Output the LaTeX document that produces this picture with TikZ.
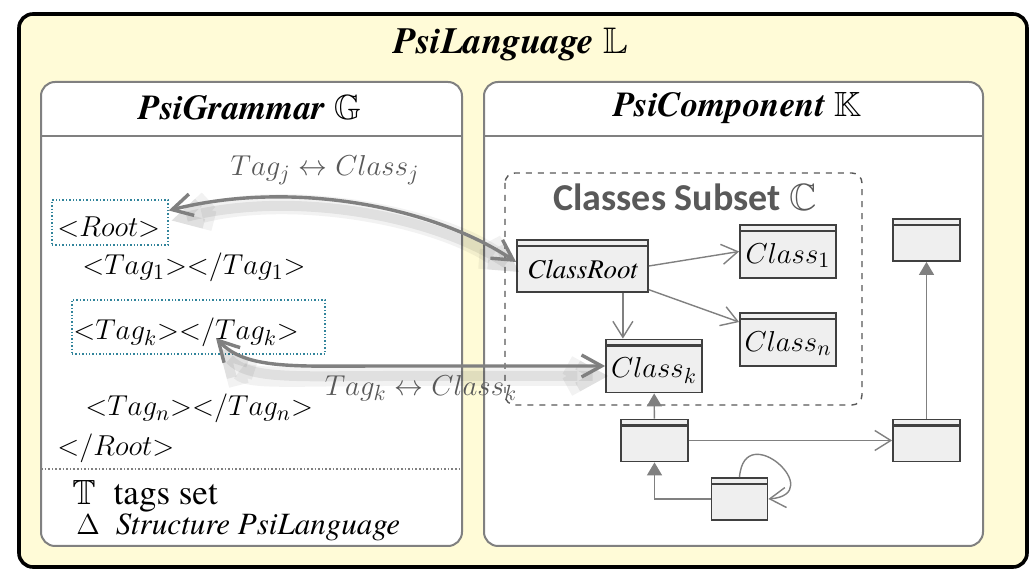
\documentclass[tikz,border=0pt]{standalone}
\usepackage{amsmath}
\usepackage{amssymb}
\usepackage{fontspec}
\IfFontExistsTF{texgyretermes-regular.otf}
  {\setmainfont{texgyretermes}[
     Extension=.otf,
     UprightFont=*-regular,
     BoldFont=*-bold,
     ItalicFont=*-italic,
     BoldItalicFont=*-bolditalic]}
  {\setmainfont{Liberation Serif}}
\setsansfont{Carlito}
\usetikzlibrary{arrows.meta,positioning,calc}

\definecolor{paleyellow}{RGB}{255,251,215}
\definecolor{framegray}{RGB}{128,128,128}
\definecolor{clsfill}{RGB}{239,239,239}
\definecolor{clsline}{RGB}{64,64,64}
\definecolor{tagteal}{RGB}{49,132,155}
\definecolor{lblgray}{RGB}{89,89,89}

\newcommand{\fsz}[1]{\fontsize{#1}{#1}\selectfont}
\newcommand{\xtag}[1]{$\mathord{<}Tag_{#1}\mathord{>}\mathord{<}/Tag_{#1}\mathord{>}$}

\begin{document}
\begin{tikzpicture}[
    x=0.5pt, y=-0.5pt,
    >={Straight Barb[length=8pt,width=10pt]},
    panel/.style   ={draw=framegray, line width=1pt, fill=white, rounded corners=7pt},
    ptitle/.style  ={font=\fsz{17.5}\bfseries\itshape},
    tagbox/.style  ={draw=tagteal, densely dotted, line width=0.7pt, inner sep=0pt},
    tagtxt/.style  ={anchor=base west, inner sep=0pt, font=\fsz{15}},
    cls/.style     ={rectangle, draw=clsline, line width=0.9pt, fill=clsfill,
                     inner sep=1pt, font=\fsz{15}, text height=14.5pt, text depth=2.5pt,
                     path picture={\draw[clsline, line width=1.3pt]
                       ([yshift=-3pt]path picture bounding box.north west) --
                       ([yshift=-3pt]path picture bounding box.north east);}},
    bigcls/.style  ={cls, minimum width=48pt, minimum height=26.5pt},
    tiny/.style    ={cls, minimum width=33.5pt, minimum height=21pt},
    link/.style    ={draw=framegray, line width=0.7pt},
    assoc/.style   ={link, ->},
    inherit/.style ={link, -{Triangle[length=6.5pt,width=7.5pt]}},
    map/.style     ={draw=framegray, line width=1.7pt,
                     {Straight Barb[length=10pt,width=11pt]}-{Straight Barb[length=10pt,width=11pt]},
                     preaction={draw=black, opacity=0.05, line width=10pt,
                       transform canvas={shift={(1.5pt,-5pt)}}},
                     preaction={draw=black, opacity=0.07, line width=5pt,
                       transform canvas={shift={(1.5pt,-5pt)}}}},
    lbl/.style     ={text=lblgray, font=\fsz{15}},
]
\useasboundingbox (0,0) rectangle (1030,582);

% ----------------------------------------------------------------------
%  outer frame : PsiLanguage
% ----------------------------------------------------------------------
\draw[line width=1.8pt, fill=paleyellow, rounded corners=7pt]
      (19,14) rectangle (1027,567);
\node[font=\fsz{18.5}\bfseries\itshape] (langtitle) at (511,45)
      {PsiLanguage $\mathbb{L}$};

% ----------------------------------------------------------------------
%  left panel : PsiGrammar
% ----------------------------------------------------------------------
\draw[panel] (41,82) rectangle (462,546);
\draw[draw=framegray, line width=1pt] (41,136) -- (462,136);
\draw[draw=framegray, densely dotted, line width=0.8pt] (41,469) -- (462,469);
\node[ptitle] (gramtitle) at (250,108) {PsiGrammar $\mathbb{G}$};

\node[tagbox, minimum width=58pt, minimum height=22.5pt] (rootbox) at (110,222.5) {};
\node[tagbox, minimum width=126.5pt, minimum height=27pt] (tagkbox) at (198.5,327) {};

\node[tagtxt] (rootopen)  at (57,237)  {$\mathord{<}Root\mathord{>}$};
\node[tagtxt] (tagone)    at (82,275)  {\xtag{1}};
\node[tagtxt] (tagk)      at (73,340)  {\xtag{k}};
\node[tagtxt] (tagn)      at (85,416)  {\xtag{n}};
\node[tagtxt] (rootclose) at (57,456)  {$\mathord{<}/Root\mathord{>}$};

\node[anchor=base west, inner sep=0pt, font=\fsz{17.5}] (tset) at (72,505)
      {$\mathbb{T}$\hspace{9pt}tags set};
\node[anchor=base west, inner sep=0pt, font=\fsz{15.5}] (struct) at (76,535)
      {$\Delta$\hspace{8pt}\textit{Structure PsiLanguage}};

% ----------------------------------------------------------------------
%  right panel : PsiComponent
% ----------------------------------------------------------------------
\draw[panel] (484,82) rectangle (983,546);
\draw[draw=framegray, line width=1pt] (484,136) -- (983,136);
\node[ptitle] (comptitle) at (737,108) {PsiComponent $\mathbb{K}$};

\draw[draw=lblgray, dashed, line width=0.7pt, rounded corners=5pt]
      (505,173) rectangle (862,405);
\node[font=\fsz{19}\sffamily\bfseries, text=lblgray] (subtitle) at (685,197)
      {Classes Subset $\mathbb{C}$};

% --- classes ---
\node[cls, minimum width=65.5pt, minimum height=26pt, font=\fsz{13.5}\itshape,
      text height=12.5pt, text depth=0pt] (croot) at (582.5,266) {ClassRoot};
\node[bigcls] (cone) at (788,251.5) {$Class_1$};
\node[bigcls] (cn)   at (788,339.5) {$Class_n$};
\node[bigcls] (ck)   at (654,366)   {$Class_k$};

\node[tiny] (ctop)   at (926.5,240)   {};
\node[tiny] (cmid)   at (654.5,440.5) {};
\node[tiny] (cright) at (926.5,440.5) {};
\node[tiny, minimum width=28pt] (cself) at (739.5,499) {};

% --- class relations ---
\draw[assoc] (croot.east) -- (cone.west);
\draw[assoc] (croot) -- (cn);
\draw[assoc] ([xshift=-13pt]croot.south east) -- ([xshift=-13pt]croot.south east |- ck.north);
\draw[inherit] (cmid) -- (ck);
\draw[assoc] (cmid) -- (cright);
\draw[inherit] (cright) -- (ctop);
\draw[inherit] (cself.west) -| (cmid.south);
\draw[assoc] (cself.north) .. controls +(5,-60) and +(60,-5) .. (cself.east);

% ----------------------------------------------------------------------
%  tag <-> class mappings
% ----------------------------------------------------------------------
\coordinate (kend) at (216,338);
\draw[map] ([yshift=6pt]rootbox.east) .. controls (290,180) and (430,205)
      .. ([yshift=2pt]croot.west);
\draw[map] (kend) .. controls +(30,32) and +(-90,0) .. ($(ck.west)+(-220,0)$)
      -- (ck.west);

\node[lbl] (mapj) at (325,170) {$Tag_j \leftrightarrow Class_j$};
\node[lbl] (mapk) at (421,388) {$Tag_k \leftrightarrow Class_k$};

\end{tikzpicture}
\end{document}
